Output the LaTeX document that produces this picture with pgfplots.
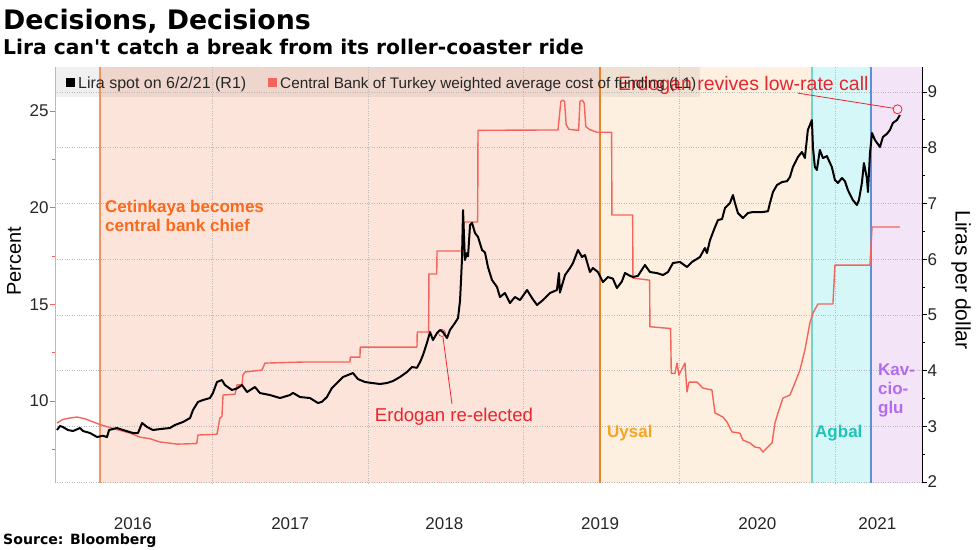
\documentclass[border=0pt]{standalone}
\usepackage{fontspec}
\setmainfont{Liberation Sans}
\newfontfamily\dejavu[Ligatures=TeXOff]{DejaVu Sans}
\usepackage{pgfplots}
\pgfplotsset{compat=1.18}
\pgfplotsset{set layers, /pgf/number format/assume math mode=true}
\definecolor{lirared}{HTML}{F2655C}
\definecolor{annored}{HTML}{E8262E}
\definecolor{axisred}{HTML}{F6A3A0}
\definecolor{cetfill}{HTML}{FDE4DA}
\definecolor{uysfill}{HTML}{FEF0E0}
\definecolor{agbfill}{HTML}{D6F7F7}
\definecolor{kavfill}{HTML}{F3E5F7}
\definecolor{cetline}{HTML}{F0955E}
\definecolor{uysline}{HTML}{E5852A}
\definecolor{agbline}{HTML}{6FD5CD}
\definecolor{kavline}{HTML}{5D8FD8}
\definecolor{cettext}{HTML}{F86A1E}
\definecolor{uystext}{HTML}{F5A524}
\definecolor{agbtext}{HTML}{22C2BA}
\definecolor{kavtext}{HTML}{B36CF0}
\definecolor{gridc}{HTML}{B8B8B8}
\begin{document}
\begin{tikzpicture}
% titles
\node[anchor=base west, inner sep=0] at (3pt,519pt) {\dejavu\bfseries\fontsize{26.8}{30}\selectfont Decisions, Decisions};
\node[anchor=base west, inner sep=0] at (3pt,494pt) {\dejavu\bfseries\fontsize{20.3}{24}\selectfont Lira can't catch a break from its roller-coaster ride};
\node[anchor=base west, inner sep=0] at (3pt,4.5pt) {\dejavu\bfseries\fontsize{14.1}{16}\selectfont Source: Bloomberg};
\node[rotate=90] at (14pt,288pt) {\fontsize{20}{20}\selectfont Percent};
\node[rotate=-90] at (961pt,269pt) {\fontsize{21}{21}\selectfont Liras per dollar};

\begin{axis}[
  at={(55pt,66pt)}, anchor=south west, scale only axis, width=867pt, height=416pt,
  xmin=2015.99, xmax=2021.557, ymin=5.759, ymax=27.276,
  clip=false,
  axis y line*=left, axis x line*=bottom,
  x axis line style={draw=none},
  y axis line style={draw=axisred, line width=0.8pt},
  xtick={2016.49,2017.5,2018.49,2019.49,2020.5,2021.27},
  xticklabels={2016,2017,2018,2019,2020,2021},
  xtick style={draw=none},
  xticklabel style={anchor=center, yshift=-35.5pt, font=\fontsize{17}{17}\selectfont, text=black!85},
  extra x ticks={2017,2018,2019,2020,2021},
  extra x tick labels={},
  extra x tick style={grid=major, major grid style={gridc, dotted, line width=0.7pt}, tick style={draw=none}},
  ytick={10,15,20,25}, minor ytick={7.5,12.5,17.5,22.5},
  tick align=outside, major tick length=5pt, minor tick length=3pt,
  ytick style={draw=lirared, line width=0.8pt},
  yticklabel style={font=\fontsize{17}{17}\selectfont, text=black!85, xshift=2pt},
]
\begin{pgfonlayer}{axis background}
\fill[cetfill] (axis cs:2016.279,5.759) rectangle (axis cs:2019.489,27.276);
\fill[uysfill] (axis cs:2019.489,5.759) rectangle (axis cs:2020.850,27.276);
\fill[agbfill] (axis cs:2020.850,5.759) rectangle (axis cs:2021.229,27.276);
\fill[kavfill] (axis cs:2021.229,5.759) rectangle (axis cs:2021.557,27.276);
\fill[black, fill opacity=0.06] (axis cs:2015.99,25.724) rectangle (axis cs:2020.131,27.276);
\end{pgfonlayer}
\draw[cetline, line width=1.3pt] (axis cs:2016.279,5.759) -- (axis cs:2016.279,27.276);
\draw[uysline, line width=1.3pt] (axis cs:2019.489,5.759) -- (axis cs:2019.489,27.276);
\draw[agbline, line width=1.3pt] (axis cs:2020.850,5.759) -- (axis cs:2020.850,27.276);
\draw[kavline, line width=1.3pt] (axis cs:2021.229,5.759) -- (axis cs:2021.229,27.276);

\addplot[lirared, line width=1.4pt, line join=round] coordinates {
(2016.003,8.86) (2016.041,9.05) (2016.086,9.12) (2016.131,9.17) (2016.183,9.08) (2016.279,8.78) (2016.375,8.55) (2016.472,8.34) (2016.536,8.13) (2016.600,8.05) (2016.664,7.88) (2016.728,7.82) (2016.773,7.77) (2016.825,7.78) (2016.900,7.80) (2016.908,8.24) (2017.030,8.28) (2017.049,9.12) (2017.062,9.20) (2017.069,10.31) (2017.146,10.35) (2017.159,10.83) (2017.191,10.85) (2017.197,11.34) (2017.210,11.50) (2017.319,11.60) (2017.338,11.96) (2017.60,12.02) (2017.884,12.02) (2017.886,12.27) (2017.948,12.27) (2017.950,12.79) (2018.314,12.79) (2018.316,13.57) (2018.389,13.57) (2018.391,16.57) (2018.441,16.57) (2018.443,17.76) (2018.610,17.76) (2018.614,19.26) (2018.704,19.26) (2018.706,24.0) (2019.22,24.02) (2019.238,25.5) (2019.250,25.56) (2019.262,25.5) (2019.272,24.3) (2019.29,24.05) (2019.352,24.0) (2019.361,25.5) (2019.376,25.56) (2019.388,25.4) (2019.398,24.2) (2019.42,24.05) (2019.47,23.9) (2019.564,23.9) (2019.566,19.62) (2019.699,19.62) (2019.701,16.36) (2019.808,16.25) (2019.810,13.84) (2019.943,13.75) (2019.947,11.43) (2019.971,11.43) (2019.984,11.96) (2019.996,11.34) (2020.022,11.76) (2020.035,11.96) (2020.048,10.47) (2020.061,10.98) (2020.112,10.98) (2020.150,10.67) (2020.208,10.57) (2020.228,9.38) (2020.279,9.17) (2020.305,8.91) (2020.337,8.40) (2020.388,8.34) (2020.407,7.98) (2020.452,7.83) (2020.484,7.62) (2020.516,7.57) (2020.536,7.36) (2020.561,7.57) (2020.594,7.83) (2020.613,8.86) (2020.632,9.38) (2020.664,10.15) (2020.709,10.31) (2020.741,10.93) (2020.773,11.6) (2020.805,12.64) (2020.837,14.03) (2020.857,14.55) (2020.889,15.02) (2020.985,15.02) (2020.998,17.03) (2021.223,17.03) (2021.236,19.0) (2021.415,19.0)
};
% annotations
\node[anchor=west, align=left, text=cettext, inner sep=0, font=\bfseries\fontsize{17}{19}\selectfont] at (axis cs:2016.311,19.59) {Cetinkaya becomes\\central bank chief};
\node[anchor=west, inner sep=0, text=uystext, font=\bfseries\fontsize{17}{17}\selectfont] at (axis cs:2019.534,8.34) {Uysal};
\node[anchor=west, inner sep=0, text=agbtext, font=\bfseries\fontsize{17}{17}\selectfont] at (axis cs:2020.87,8.34) {Agbal};
\node[anchor=west, align=left, inner sep=0, text=kavtext, font=\bfseries\fontsize{17}{19}\selectfont] at (axis cs:2021.274,10.52) {Kav-\\cio-\\glu};
\addplot[only marks, mark=o, mark size=3.5pt, annored, line width=0.6pt] coordinates {(2018.475,13.52)};
\draw[annored, line width=0.8pt] (axis cs:2018.481,13.31) -- (axis cs:2018.539,9.845);
\node[text=annored, font=\fontsize{18.6}{19}\selectfont] at (axis cs:2018.552,9.17) {Erdogan re-elected};
\end{axis}

\begin{axis}[
  at={(55pt,66pt)}, anchor=south west, scale only axis, width=867pt, height=416pt,
  xmin=2015.99, xmax=2021.557, ymin=1.982, ymax=9.449,
  clip=false,
  axis y line*=right, axis x line=none,
  ytick={2,3,4,5,6,7,8,9}, minor ytick={2.5,3.5,4.5,5.5,6.5,7.5,8.5},
  ymajorgrids, major grid style={gridc, dotted, line width=0.7pt},
  tick align=outside, major tick length=5pt, minor tick length=3pt,
  ytick style={black, line width=0.8pt},
  y axis line style={black, line width=0.9pt},
  yticklabel style={font=\fontsize{17}{17}\selectfont, text=black!85, xshift=-3pt},
]
\addplot[black, line width=2pt, line join=round] coordinates {
(2016.003,2.933) (2016.022,3.005) (2016.041,2.987) (2016.073,2.933) (2016.106,2.915) (2016.151,2.969) (2016.170,2.915) (2016.215,2.879) (2016.260,2.807) (2016.298,2.83) (2016.324,2.807) (2016.337,2.933) (2016.388,2.969) (2016.427,2.933) (2016.491,2.879) (2016.523,2.879) (2016.549,3.059) (2016.581,2.987) (2016.619,2.933) (2016.664,2.95) (2016.728,2.969) (2016.760,3.023) (2016.812,3.077) (2016.857,3.148) (2016.876,3.292) (2016.908,3.436) (2016.940,3.471) (2016.985,3.507) (2017.004,3.597) (2017.030,3.795) (2017.062,3.830) (2017.081,3.741) (2017.126,3.651) (2017.159,3.68) (2017.191,3.741) (2017.223,3.615) (2017.274,3.705) (2017.306,3.597) (2017.370,3.561) (2017.435,3.507) (2017.499,3.561) (2017.518,3.6) (2017.563,3.525) (2017.627,3.507) (2017.679,3.417) (2017.704,3.44) (2017.736,3.525) (2017.768,3.687) (2017.807,3.795) (2017.839,3.884) (2017.871,3.920) (2017.903,3.956) (2017.935,3.848) (2017.980,3.795) (2018.025,3.777) (2018.077,3.759) (2018.122,3.777) (2018.160,3.812) (2018.205,3.884) (2018.250,3.974) (2018.282,4.064) (2018.314,4.05) (2018.334,4.153) (2018.353,4.279) (2018.378,4.495) (2018.398,4.692) (2018.417,4.548) (2018.443,4.674) (2018.462,4.728) (2018.481,4.692) (2018.507,4.584) (2018.526,4.728) (2018.558,4.854) (2018.578,4.943) (2018.591,5.266) (2018.603,5.984) (2018.610,6.881) (2018.622,5.984) (2018.635,6.110) (2018.642,6.05) (2018.655,6.613) (2018.668,6.649) (2018.687,6.469) (2018.706,6.4) (2018.732,6.164) (2018.751,6.12) (2018.770,5.859) (2018.796,5.625) (2018.828,5.500) (2018.847,5.320) (2018.879,5.392) (2018.911,5.212) (2018.943,5.320) (2018.976,5.266) (2019.021,5.446) (2019.053,5.302) (2019.085,5.177) (2019.123,5.266) (2019.168,5.392) (2019.213,5.446) (2019.226,5.751) (2019.232,5.40) (2019.265,5.715) (2019.297,5.841) (2019.316,5.931) (2019.348,6.164) (2019.374,6.038) (2019.393,6.074) (2019.425,5.769) (2019.444,5.841) (2019.476,5.769) (2019.508,5.589) (2019.540,5.679) (2019.572,5.65) (2019.598,5.482) (2019.630,5.6) (2019.650,5.751) (2019.682,5.70) (2019.701,5.68) (2019.733,5.70) (2019.778,5.895) (2019.810,5.769) (2019.855,5.75) (2019.894,5.715) (2019.926,5.769) (2019.958,5.931) (2020.003,5.949) (2020.048,5.859) (2020.080,5.949) (2020.131,6.038) (2020.163,6.200) (2020.176,6.11) (2020.196,6.343) (2020.228,6.577) (2020.247,6.702) (2020.273,6.72) (2020.292,6.918) (2020.324,7.008) (2020.343,7.151) (2020.356,7.008) (2020.375,6.828) (2020.407,6.738) (2020.439,6.828) (2020.471,6.846) (2020.536,6.846) (2020.568,6.86) (2020.581,7.008) (2020.600,7.205) (2020.626,7.331) (2020.658,7.384) (2020.690,7.40) (2020.709,7.474) (2020.728,7.654) (2020.760,7.833) (2020.786,7.923) (2020.805,7.815) (2020.824,8.318) (2020.850,8.497) (2020.857,8.0) (2020.869,7.654) (2020.882,7.600) (2020.901,7.959) (2020.921,7.815) (2020.946,7.85) (2020.978,7.654) (2020.998,7.420) (2021.017,7.367) (2021.043,7.456) (2021.062,7.40) (2021.081,7.241) (2021.113,7.061) (2021.139,6.972) (2021.152,7.061) (2021.171,7.367) (2021.184,7.726) (2021.203,7.456) (2021.210,7.205) (2021.223,7.905) (2021.236,8.264) (2021.255,8.138) (2021.287,8.013) (2021.306,8.192) (2021.332,8.25) (2021.351,8.318) (2021.370,8.444) (2021.396,8.497) (2021.415,8.587)
};
\draw[annored, line width=0.8pt] (axis cs:2020.76,8.98) -- (axis cs:2021.37,8.71);
\addplot[only marks, mark=o, mark size=4.5pt, annored, line width=0.8pt] coordinates {(2021.40,8.69)};
\node[text=annored, font=\fontsize{19.5}{20}\selectfont] at (axis cs:2020.41,9.126) {Erdogan revives low-rate call};
\end{axis}
% legend
\fill[black] (65.5pt,461.5pt) rectangle (74.5pt,470.5pt);
\node[anchor=base west, inner sep=0, text=black!85] at (78pt,460pt) {\fontsize{16}{16}\selectfont Lira spot on 6/2/21 (R1)};
\fill[lirared] (268pt,461.5pt) rectangle (277pt,470.5pt);
\node[anchor=base west, inner sep=0, text=black!85] at (280pt,460pt) {\fontsize{15.3}{16}\selectfont Central Bank of Turkey weighted average cost of funding (L1)};
\path (0pt,0pt) rectangle (977pt,549pt);
\end{tikzpicture}
\end{document}
